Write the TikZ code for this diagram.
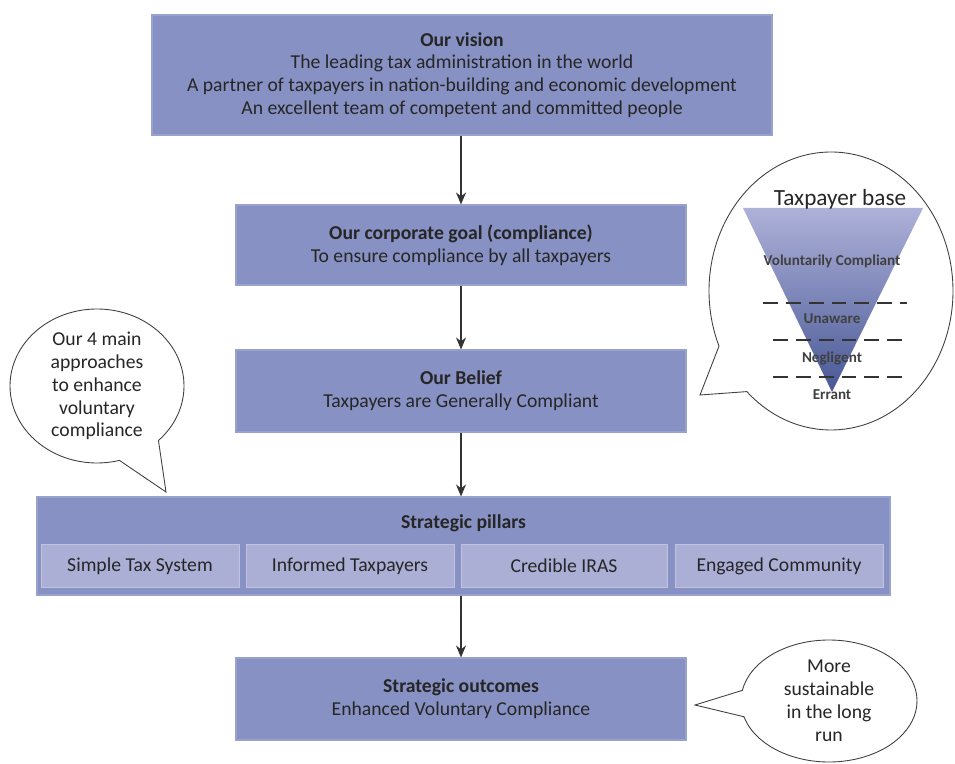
\documentclass[tikz,border=0pt]{standalone}
\usepackage{fontspec}
\setmainfont{Carlito}
\usepackage{tikz}
\usetikzlibrary{arrows.meta,shapes.callouts}
\usepackage{xcolor}
\definecolor{boxfill}{RGB}{135,145,195}
\definecolor{pillarfill}{RGB}{171,175,214}
\definecolor{txt}{RGB}{38,38,38}
\definecolor{tritop}{RGB}{174,177,216}
\definecolor{tribot}{RGB}{72,88,150}

\tikzset{
  box/.style={fill=boxfill,draw=boxfill!85!white,line width=0.6pt,inner sep=0pt,align=center,text=txt},
  pillar/.style={fill=pillarfill,draw=pillarfill!75!white,line width=0.5pt,inner sep=0pt,minimum height=0.86cm,text=txt},
  bubble/.style={ellipse callout,draw=black!75,fill=white,line width=0.5pt,inner sep=0pt,align=center,text=txt},
  flow/.style={-{Stealth[length=2.4mm,width=2mm]},line width=0.9pt,draw=black!80},
  layer/.style={font=\fontsize{8.6}{10}\selectfont\bfseries,text=black!75}
}

\begin{document}
\begin{tikzpicture}[font=\fontsize{11.2}{13}\selectfont]
\useasboundingbox (0,0) rectangle (19.1,15.26);

% flow boxes
\node[box,minimum width=12.4cm,minimum height=2.4cm] (vision) at (9.24,13.76)
  {\textbf{Our vision}\\The leading tax administration in the world\\A partner of taxpayers in nation-building and economic development\\An excellent team of competent and committed people};
\node[box,minimum width=9cm,minimum height=1.6cm] (goal) at (9.22,10.36)
  {\textbf{Our corporate goal (compliance)}\\To ensure compliance by all taxpayers};
\node[box,minimum width=9cm,minimum height=1.64cm] (belief) at (9.22,7.44)
  {\textbf{Our Belief}\\Taxpayers are Generally Compliant};
\node[box,minimum width=17.06cm,minimum height=1.96cm] (pillars) at (9.27,4.34) {};
\node[text=txt] (pillarstitle) at (9.27,4.8) {\textbf{Strategic pillars}};
\node[pillar,minimum width=3.96cm] (simple) at (2.8,3.94) {Simple Tax System};
\node[pillar,minimum width=4.16cm] (informed) at (7.0,3.94) {Informed Taxpayers};
\node[pillar,minimum width=4.12cm] (credible) at (11.28,3.94) {Credible IRAS};
\node[pillar,minimum width=4.16cm] (engaged) at (15.58,3.94) {Engaged Community};
\node[box,minimum width=9cm,minimum height=1.64cm] (outcomes) at (9.22,1.28)
  {\textbf{Strategic outcomes}\\Enhanced Voluntary Compliance};

\draw[flow] (vision.south -| goal.north) -- (goal.north);
\draw[flow] (goal) -- (belief);
\draw[flow] (belief.south) -- (belief.south |- pillars.north);
\draw[flow] (pillars.south -| outcomes.north) -- (outcomes.north);

% callouts
\node[bubble,minimum width=3.48cm,minimum height=3.08cm,callout pointer arc=30,
  callout absolute pointer={(3.32,5.42)}] (approaches) at (1.94,7.54)
  {Our 4 main\\approaches\\to enhance\\voluntary\\compliance};
\node[bubble,minimum width=3.52cm,minimum height=2.44cm,callout pointer arc=25,
  callout absolute pointer={(13.9,1.16)}] (longrun) at (16.58,1.24)
  {More\\sustainable\\in the long\\run};
\node[bubble,minimum width=4.88cm,minimum height=5.56cm,callout pointer arc=23,
  callout absolute pointer={(14.0,7.36)}] (base) at (16.62,9.44) {};

% taxpayer base funnel
\shade[top color=tritop,bottom color=tribot] (14.86,11.1) -- (18.46,11.1) -- (16.64,7.42) -- cycle;
\node[font=\fontsize{13.2}{15}\selectfont,text=txt] (basetitle) at (16.8,11.28) {Taxpayer base};
\node[layer] (voluntary) at (16.64,10.04) {Voluntarily Compliant};
\node[layer] (unaware) at (16.64,8.88) {Unaware};
\node[layer] (negligent) at (16.64,8.1) {Negligent};
\node[layer] (errant) at (16.64,7.36) {Errant};
\begin{scope}[line width=1.6pt,dash pattern=on 8.5pt off 4.5pt,draw=black!80]
\draw (15.26,9.2) -- (18.14,9.2);
\draw (15.46,8.46) -- (18.1,8.46);
\draw (15.46,7.72) -- (18.1,7.72);
\end{scope}
\end{tikzpicture}
\end{document}
